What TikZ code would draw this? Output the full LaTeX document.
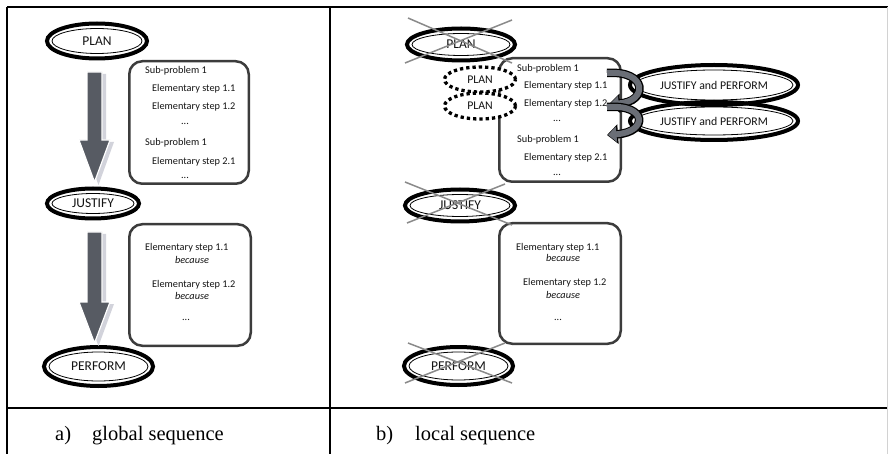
\documentclass[tikz,border=0pt]{standalone}
\usepackage{fontspec}
\setmainfont{Liberation Serif}
\newfontfamily\carl{Carlito}
\usetikzlibrary{shapes.geometric,arrows.meta,calc}
\definecolor{boxc}{HTML}{3C3C3C}
\definecolor{arrc}{HTML}{575B63}
\definecolor{shadc}{HTML}{D2D3DB}
\definecolor{curc}{HTML}{6A6E76}
\definecolor{crossc}{HTML}{8A8A8A}
\tikzset{
  txt/.style={font=\carl\fontsize{10.3}{12}\selectfont, text=black!92, inner sep=0pt, text height=7pt, text depth=2pt},
  tw/.style={txt, anchor=west},
  bigell/.style={ellipse, draw=black, line width=4pt, inner sep=0pt, font=\carl\fontsize{13.5}{15}\selectfont, text=black!92},
  jpell/.style={bigell, font=\carl\fontsize{11.8}{13}\selectfont},
  dotell/.style={ellipse, draw=black, fill=white, line width=3.3pt, dash pattern=on 3.3pt off 3pt, inner sep=0pt, font=\carl\fontsize{11.8}{13}\selectfont, text=black!92},
  rbox/.style={draw=boxc, line width=2.5pt, rounded corners=13pt},
  crossl/.style={draw=crossc, line width=1.5pt},
  tline/.style={draw=black, line width=1.6pt},
  captxt/.style={font=\fontsize{20.5}{24}\selectfont, anchor=base west, inner sep=0pt},
}
% name, x, y, rx, ry, text, style
\newcommand\dell[7]{%
  \node[#7, minimum width=2*#4pt, minimum height=2*#5pt] (#1) at (#2,#3) {#6};
  \draw[line width=0.8pt] (#1.center) ellipse [x radius=#4-5, y radius=#5-5];}
\begin{document}
\begin{tikzpicture}[x=1pt,y=-1pt]
\fill[white] (0,0) rectangle (888,454);
\useasboundingbox (0,0) rectangle (888,454);
% table
\draw[tline] (7,7) -- (888,7);
\draw[tline] (7,7) -- (7,454);
\draw[tline] (330,7) -- (330,454);
\draw[tline] (7,408) -- (888,408);
\draw[gray!35, line width=1pt] (887,7) -- (887,454);

% ---------------- left panel ----------------
\dell{plana}{97}{41}{50}{17.5}{PLAN}{bigell}
\dell{justa}{93}{203.5}{46}{15}{JUSTIFY}{bigell}
\dell{perfa}{98.5}{366.5}{54.5}{19.5}{PERFORM}{bigell}

% arrows (shadow then body)
\fill[shadc] (91,74) -- (106,74) -- (106,142) -- (114,142) -- (98.5,185) -- (83,142) -- (91,142) -- cycle;
\filldraw[fill=arrc, draw=white, line width=1.2pt] (87,72) -- (102,72) -- (102,140) -- (110,140) -- (94.5,182) -- (79,140) -- (87,140) -- cycle;
\fill[shadc] (91,234) -- (106,234) -- (106,304) -- (114,304) -- (98.5,346) -- (83,304) -- (91,304) -- cycle;
\filldraw[fill=arrc, draw=white, line width=1.2pt] (87,232) -- (102,232) -- (102,302) -- (110,302) -- (94.5,343) -- (79,302) -- (87,302) -- cycle;

% boxes
\draw[rbox] (129.25,61.25) rectangle (248.75,183.75);
\node[tw] (la1) at (145,71) {Sub-problem 1};
\node[tw] (la2) at (152,89) {Elementary step 1.1};
\node[tw] (la3) at (152,107) {Elementary step 1.2};
\node[txt] (la4) at (185,122) {...};
\node[tw] (la5) at (145,143) {Sub-problem 1};
\node[tw] (la6) at (152,162) {Elementary step 2.1};
\node[txt] (la7) at (185,176) {...};

\draw[rbox] (129.25,224.25) rectangle (250.75,345.75);
\node[tw] (lb1) at (145,248) {Elementary step 1.1};
\node[txt] (lb2) at (192,261) {\itshape because};
\node[tw] (lb3) at (152,285) {Elementary step 1.2};
\node[txt] (lb4) at (192,297) {\itshape because};
\node[txt] (lb5) at (186,318) {...};

% caption
\node[captxt] (capa1) at (55,440) {a)};
\node[captxt] (capa2) at (92,440) {global sequence};

% ---------------- right panel ----------------
\draw[rbox] (499.25,58.25) rectangle (620.75,181.75);
\node[tw] (ra1) at (517,69) {Sub-problem 1};
\node[tw] (ra2) at (524,86) {Elementary step 1.1};
\node[tw] (ra3) at (524,104) {Elementary step 1.2};
\node[txt] (ra4) at (557,119) {...};
\node[tw] (ra5) at (517,140) {Sub-problem 1};
\node[tw] (ra6) at (524,158) {Elementary step 2.1};
\node[txt] (ra7) at (557,173) {...};

\draw[rbox] (499.25,223.25) rectangle (620.75,343.75);
\node[tw] (rb1) at (516,248) {Elementary step 1.1};
\node[txt] (rb2) at (563,259) {\itshape because};
\node[tw] (rb3) at (523,283) {Elementary step 1.2};
\node[txt] (rb4) at (563,296) {\itshape because};
\node[txt] (rb5) at (558,318) {...};

% dotted PLAN ellipses
\node[dotell, minimum width=71pt, minimum height=25pt] (dp1) at (480,79.5) {PLAN};
\node[dotell, minimum width=71pt, minimum height=26pt] (dp2) at (480,106) {PLAN};

% crossed ellipses
\dell{planb}{461}{44.5}{54}{16}{PLAN}{bigell}
\dell{justb}{460}{205.5}{55}{16}{JUSTIFY}{bigell}
\dell{perfb}{458.5}{366}{54.5}{19}{PERFORM}{bigell}
\draw[crossl] ($(planb)+(-53,-26.5)$) -- ($(planb)+(51,18.5)$);
\draw[crossl] ($(planb)+(-56,18.5)$) -- ($(planb)+(51,-24.5)$);
\draw[crossl] ($(justb)+(-55,-23.5)$) -- ($(justb)+(52,19.5)$);
\draw[crossl] ($(justb)+(-53,17.5)$) -- ($(justb)+(45,-21.5)$);
\draw[crossl] ($(perfb)+(-50.5,-23)$) -- ($(perfb)+(53.5,17)$);
\draw[crossl] ($(perfb)+(-53.5,17)$) -- ($(perfb)+(46.5,-23)$);

% JUSTIFY and PERFORM ellipses
\dell{jp1}{714}{85}{84}{20}{JUSTIFY and PERFORM}{jpell}
\dell{jp2}{714}{121}{84}{19}{JUSTIFY and PERFORM}{jpell}

% curved arrows
\coordinate (c1s) at (607,73);
\coordinate (c1e) at (609,104);
\coordinate (c2s) at (607,107);
\coordinate (c2e) at (607,135);
\draw[black, line width=8.5pt, -{Triangle[length=11pt,width=19pt]}] (c1s) .. controls (648,70) and (648,102) .. (c1e);
\draw[curc, line width=6pt, shorten >=1pt, -{Triangle[length=8.5pt,width=15pt]}] (c1s) .. controls (648,70) and (648,102) .. (c1e);
\draw[black, line width=8.5pt, -{Triangle[length=11pt,width=19pt]}] (c2s) .. controls (648,104) and (648,132) .. (c2e);
\draw[curc, line width=6pt, shorten >=1pt, -{Triangle[length=8.5pt,width=15pt]}] (c2s) .. controls (648,104) and (648,132) .. (c2e);

% caption
\node[captxt] (capb1) at (376,440) {b)};
\node[captxt] (capb2) at (415,440) {local sequence};
\end{tikzpicture}
\end{document}
